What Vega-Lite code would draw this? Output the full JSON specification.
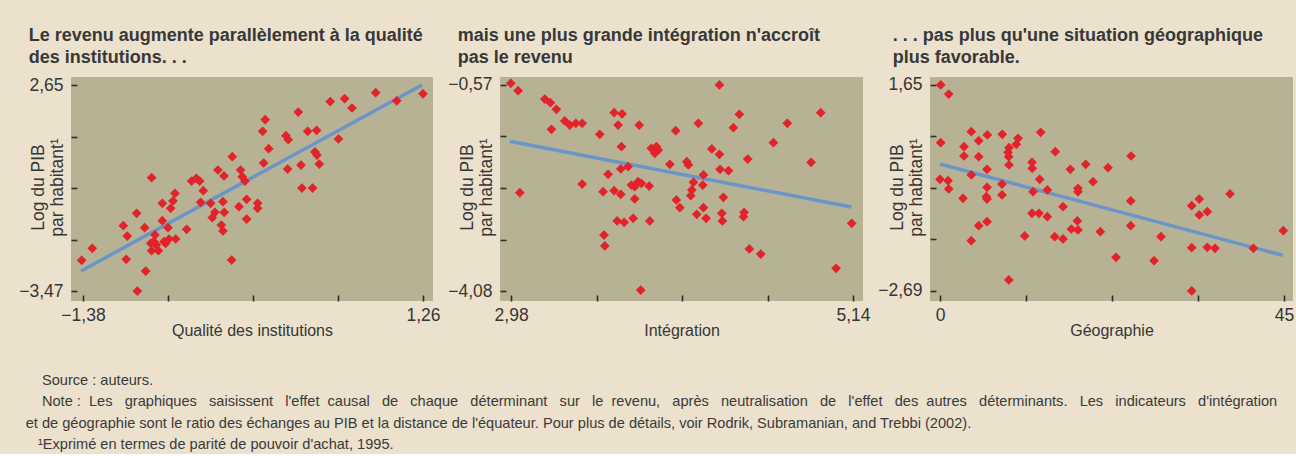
{
  "$schema": "https://vega.github.io/schema/vega-lite/v6.json",
  "background": "#ebe1cc",
  "padding": {"left": 18, "top": 26, "right": 2, "bottom": 2},
  "bounds": "flush",
  "spacing": 67,
  "config": {
    "view": {"fill": "#b7b294", "stroke": null},
    "font": "Liberation Sans",
    "axis": {
      "domain": false,
      "grid": false,
      "tickSize": -6,
      "tickColor": "#2e2e2e",
      "tickWidth": 1.6,
      "labelFont": "Liberation Sans",
      "labelFontSize": 17.5,
      "labelColor": "#363636",
      "labelOverlap": false,
      "labelBound": false,
      "labelFlush": false,
      "titleFont": "Liberation Sans",
      "titleFontWeight": "normal",
      "titleColor": "#363636"
    },
    "axisX": {"labelPadding": 11, "titlePadding": -1, "titleFontSize": 16},
    "axisY": {"labelPadding": 14, "titleFontSize": 17.5, "titleX": -24, "titleY": 110, "titleLineHeight": 19, "titleBaseline": "bottom", "titleAlign": "center", "titleAngle": -90},
    "title": {"anchor": "start", "frame": "bounds", "font": "Liberation Sans", "fontSize": 18, "fontWeight": "bold", "color": "#383838", "lineHeight": 22, "baseline": "alphabetic", "offset": 9}
  },
  "title": {
    "text": [
      "\u200b\u00a0\u00a0\u00a0\u00a0Source : auteurs.",
      "\u200b\u00a0\u00a0\u00a0\u00a0Note : \u00a0Les \u00a0\u00a0graphiques \u00a0\u00a0saisissent \u00a0\u00a0l'effet \u00a0causal \u00a0\u00a0de \u00a0\u00a0chaque \u00a0\u00a0déterminant \u00a0\u00a0sur \u00a0\u00a0le \u00a0revenu, \u00a0\u00a0après \u00a0\u00a0neutralisation \u00a0\u00a0de \u00a0\u00a0l'effet \u00a0\u00a0des \u00a0autres \u00a0\u00a0déterminants. \u00a0\u00a0Les \u00a0\u00a0indicateurs \u00a0\u00a0d'intégration",
      "et de géographie sont le ratio des échanges au PIB et la distance de l'équateur. Pour plus de détails, voir Rodrik, Subramanian, and Trebbi (2002).",
      "\u200b\u00a0\u00a0\u00a0¹Exprimé en termes de parité de pouvoir d'achat, 1995."
    ],
    "orient": "bottom",
    "anchor": "start",
    "frame": "bounds",
    "dx": 7,
    "font": "Liberation Sans",
    "fontSize": 14.6,
    "fontWeight": "normal",
    "color": "#3a3a3a",
    "lineHeight": 21.5,
    "baseline": "top",
    "offset": 34
  },
  "datasets": {
    "inst": [
      {"x":-1.390,"y":-2.558},{"x":-1.308,"y":-2.201},{"x":-1.067,"y":-1.530},{"x":-1.036,"y":-1.836},{"x":-1.044,"y":-2.528},
      {"x":-0.963,"y":-1.162},{"x":-0.893,"y":-2.876},{"x":-0.958,"y":-3.470},{"x":-0.901,"y":-1.589},{"x":-0.847,"y":-0.104},
      {"x":-0.764,"y":-0.865},{"x":-0.764,"y":-1.381},{"x":-0.720,"y":-1.589},{"x":-0.699,"y":-1.013},{"x":-0.681,"y":-0.796},
      {"x":-0.666,"y":-0.567},{"x":-0.821,"y":-1.806},{"x":-0.829,"y":-2.005},{"x":-0.847,"y":-2.273},{"x":-0.795,"y":-2.273},
      {"x":-0.751,"y":-2.005},{"x":-0.712,"y":-1.925},{"x":-0.660,"y":-1.925},{"x":-0.575,"y":-1.637},{"x":-0.536,"y":-0.202},
      {"x":-0.500,"y":-0.122},{"x":-0.474,"y":-0.202},{"x":-0.446,"y":-0.490},{"x":-0.466,"y":-0.835},{"x":-0.389,"y":-0.865},
      {"x":-0.355,"y":-1.132},{"x":-0.376,"y":-1.292},{"x":-0.293,"y":-0.817},{"x":-0.283,"y":-1.132},{"x":-0.306,"y":-1.509},
      {"x":-0.293,"y":-1.687},{"x":-0.332,"y":0.125},{"x":-0.285,"y":-0.053},{"x":-0.221,"y":0.520},{"x":-0.226,"y":-2.549},
      {"x":-0.156,"y":0.125},{"x":-0.143,"y":-0.074},{"x":-0.122,"y":-0.202},{"x":-0.109,"y":-0.746},{"x":-0.169,"y":-0.966},
      {"x":-0.109,"y":-1.331},{"x":-0.811,"y":-2.103},{"x":-0.738,"y":-2.053},{"x":-0.854,"y":-2.053},{"x":-0.024,"y":-0.865},
      {"x":-0.024,"y":-1.013},{"x":0.015,"y":1.274},{"x":0.035,"y":1.619},{"x":0.062,"y":0.758},{"x":0.023,"y":0.333},
      {"x":0.196,"y":1.144},{"x":0.214,"y":1.025},{"x":0.209,"y":0.154},{"x":0.292,"y":1.848},{"x":0.313,"y":0.273},
      {"x":0.320,"y":-0.410},{"x":0.403,"y":-0.410},{"x":0.365,"y":1.274},{"x":0.434,"y":1.304},{"x":0.421,"y":0.660},
      {"x":0.437,"y":0.570},{"x":0.455,"y":0.303},{"x":0.540,"y":2.160},{"x":0.604,"y":1.046},{"x":0.652,"y":2.243},
      {"x":0.709,"y":1.967},{"x":0.893,"y":2.421},{"x":1.056,"y":2.181},{"x":1.260,"y":2.389}
    ],
    "inst_fit": [{"x":-1.3955,"y":-2.876},{"x":1.252,"y":2.65}],
    "integ": [
      {"x":2.978,"y":-0.541},{"x":3.024,"y":-0.667},{"x":3.193,"y":-0.809},{"x":3.228,"y":-0.872},{"x":3.266,"y":-0.984},
      {"x":3.235,"y":-1.325},{"x":3.319,"y":-1.183},{"x":3.351,"y":-1.252},{"x":3.389,"y":-1.223},{"x":3.429,"y":-1.223},
      {"x":3.540,"y":-1.410},{"x":3.631,"y":-1.042},{"x":3.681,"y":-1.064},{"x":3.656,"y":-1.252},{"x":3.789,"y":-1.252},
      {"x":4.020,"y":-1.349},{"x":3.677,"y":-1.621},{"x":3.866,"y":-1.649},{"x":3.898,"y":-1.621},{"x":3.888,"y":-1.734},
      {"x":3.909,"y":-1.678},{"x":3.983,"y":-1.921},{"x":3.673,"y":-2.001},{"x":3.719,"y":-1.962},{"x":3.593,"y":-2.092},
      {"x":3.035,"y":-2.405},{"x":3.429,"y":-2.257},{"x":3.561,"y":-2.388},{"x":3.631,"y":-2.371},{"x":3.673,"y":-2.432},
      {"x":3.740,"y":-2.274},{"x":3.782,"y":-2.218},{"x":3.803,"y":-2.245},{"x":3.761,"y":-2.303},{"x":3.852,"y":-2.291},
      {"x":3.761,"y":-2.512},{"x":3.650,"y":-2.887},{"x":3.694,"y":-2.909},{"x":3.751,"y":-2.841},{"x":3.856,"y":-2.887},
      {"x":3.567,"y":-3.126},{"x":3.572,"y":-3.313},{"x":3.799,"y":-4.063},{"x":4.024,"y":-2.529},{"x":4.046,"y":-2.661},
      {"x":4.296,"y":-0.570},{"x":4.422,"y":-1.069},{"x":4.163,"y":-1.223},{"x":4.384,"y":-1.298},{"x":4.725,"y":-1.223},
      {"x":4.936,"y":-1.042},{"x":4.637,"y":-1.553},{"x":4.248,"y":-1.660},{"x":4.296,"y":-1.751},{"x":4.475,"y":-1.831},
      {"x":4.090,"y":-1.877},{"x":4.100,"y":-1.933},{"x":4.300,"y":-2.006},{"x":4.353,"y":-2.030},{"x":4.875,"y":-1.887},
      {"x":4.195,"y":-2.103},{"x":4.132,"y":-2.228},{"x":4.191,"y":-2.274},{"x":4.122,"y":-2.359},{"x":4.115,"y":-2.456},
      {"x":4.321,"y":-2.483},{"x":4.153,"y":-2.773},{"x":4.195,"y":-2.661},{"x":4.212,"y":-2.841},{"x":4.311,"y":-2.756},
      {"x":4.315,"y":-2.887},{"x":4.452,"y":-2.739},{"x":4.448,"y":-2.814},{"x":5.132,"y":-2.926},{"x":4.485,"y":-3.364},
      {"x":4.557,"y":-3.450},{"x":5.033,"y":-3.693}
    ],
    "integ_fit": [{"x":2.972,"y":-1.529},{"x":5.130,"y":-2.649}],
    "geo": [
      {"x":0.09,"y":1.650},{"x":1.14,"y":1.460},{"x":0.09,"y":0.435},{"x":4.09,"y":0.666},{"x":5.06,"y":0.477},
      {"x":6.19,"y":0.597},{"x":8.15,"y":0.611},{"x":10.20,"y":0.527},{"x":9.98,"y":0.401},{"x":13.17,"y":0.654},
      {"x":3.14,"y":0.350},{"x":3.14,"y":0.154},{"x":5.06,"y":0.140},{"x":9.03,"y":0.329},{"x":8.90,"y":0.232},
      {"x":8.99,"y":0.140},{"x":9.03,"y":-0.035},{"x":12.04,"y":0.022},{"x":12.07,"y":-0.105},{"x":15.08,"y":0.245},
      {"x":17.05,"y":-0.126},{"x":19.06,"y":-0.021},{"x":21.98,"y":-0.092},{"x":0.0,"y":-0.337},{"x":1.05,"y":-0.366},
      {"x":1.14,"y":-0.541},{"x":4.09,"y":-0.246},{"x":6.15,"y":-0.126},{"x":6.15,"y":-0.505},{"x":6.06,"y":-0.703},
      {"x":6.15,"y":-0.752},{"x":8.11,"y":-0.436},{"x":8.11,"y":-0.667},{"x":3.01,"y":-0.737},{"x":12.17,"y":-0.598},
      {"x":13.04,"y":-0.337},{"x":14.04,"y":-0.562},{"x":18.05,"y":-0.526},{"x":18.05,"y":-0.598},{"x":20.02,"y":-0.387},
      {"x":16.09,"y":-0.914},{"x":12.04,"y":-1.053},{"x":12.95,"y":-1.053},{"x":14.04,"y":-1.124},{"x":17.96,"y":-1.215},
      {"x":17.18,"y":-1.384},{"x":18.05,"y":-1.405},{"x":5.06,"y":-1.314},{"x":6.15,"y":-1.230},{"x":4.09,"y":-1.630},
      {"x":11.08,"y":-1.531},{"x":15.01,"y":-1.546},{"x":16.09,"y":-1.594},{"x":20.97,"y":-1.440},{"x":8.99,"y":-2.458},
      {"x":24.99,"y":0.154},{"x":24.95,"y":-0.794},{"x":24.95,"y":-1.314},{"x":28.91,"y":-1.546},{"x":23.02,"y":-1.980},
      {"x":28.00,"y":-2.051},{"x":32.93,"y":-0.893},{"x":33.92,"y":-0.752},{"x":33.92,"y":-1.089},{"x":34.97,"y":-1.019},
      {"x":37.94,"y":-0.646},{"x":32.93,"y":-1.777},{"x":34.97,"y":-1.769},{"x":35.98,"y":-1.790},{"x":40.99,"y":-1.790},
      {"x":44.91,"y":-1.419},{"x":32.93,"y":-2.690}
    ],
    "geo_fit": [{"x":0.0,"y":-0.014},{"x":44.83,"y":-1.938}]
  },
  "hconcat": [
    {
      "width": 362,
      "height": 224,
      "title": {"text": ["Le revenu augmente parallèlement à la qualité", "des institutions. . ."], "dx": 10},
      "layer": [
        {
          "data": {"name": "inst_fit"},
          "mark": {"type": "line", "color": "#6b95c9", "strokeWidth": 3.5},
          "encoding": {
            "x": {"field": "x", "type": "quantitative"},
            "y": {"field": "y", "type": "quantitative"}
          }
        },
        {
          "data": {"name": "inst"},
          "mark": {"type": "point", "shape": "diamond", "filled": true, "size": 95, "color": "#e2232b", "opacity": 1},
          "encoding": {
            "x": {"field": "x", "type": "quantitative",
              "scale": {"domain": [-1.473, 1.338], "nice": false, "zero": false},
              "axis": {"title": "Qualité des institutions", "values": [-1.38, -0.72, -0.06, 0.6, 1.26],
                "labelExpr": "datum.value == -1.38 ? '−1,38' : datum.value == 1.26 ? '1,26' : ''"}},
            "y": {"field": "y", "type": "quantitative",
              "scale": {"domain": [-3.767, 2.888], "nice": false, "zero": false},
              "axis": {"title": ["Log du PIB", "par habitant¹"], "titleLineHeight": 19, "values": [-3.47, -1.94, -0.41, 1.12, 2.65],
                "labelExpr": "datum.value == 2.65 ? '2,65' : datum.value == -3.47 ? '−3,47' : ''"}}
          }
        }
      ]
    },
    {
      "width": 363,
      "height": 224,
      "title": {"text": ["mais une plus grande intégration n'accroît", "pas le revenu"], "dx": 10},
      "layer": [
        {
          "data": {"name": "integ_fit"},
          "mark": {"type": "line", "color": "#6b95c9", "strokeWidth": 3.5},
          "encoding": {
            "x": {"field": "x", "type": "quantitative"},
            "y": {"field": "y", "type": "quantitative"}
          }
        },
        {
          "data": {"name": "integ"},
          "mark": {"type": "point", "shape": "diamond", "filled": true, "size": 95, "color": "#e2232b", "opacity": 1},
          "encoding": {
            "x": {"field": "x", "type": "quantitative",
              "scale": {"domain": [2.910, 5.203], "nice": false, "zero": false},
              "axis": {"title": "Intégration", "values": [2.98, 3.52, 4.06, 4.6, 5.14],
                "labelExpr": "datum.value == 2.98 ? '2,98' : datum.value == 5.14 ? '5,14' : ''"}},
            "y": {"field": "y", "type": "quantitative",
              "scale": {"domain": [-4.25, -0.434], "nice": false, "zero": false},
              "axis": {"title": ["Log du PIB", "par habitant¹"], "titleLineHeight": 19, "values": [-4.08, -3.2025, -2.325, -1.4475, -0.57],
                "labelExpr": "datum.value == -0.57 ? '−0,57' : datum.value == -4.08 ? '−4,08' : ''"}}
          }
        }
      ]
    },
    {
      "width": 363,
      "height": 224,
      "title": {"text": [". . . pas plus qu'une situation géographique", "plus favorable."], "dx": 15},
      "layer": [
        {
          "data": {"name": "geo_fit"},
          "mark": {"type": "line", "color": "#6b95c9", "strokeWidth": 3.5},
          "encoding": {
            "x": {"field": "x", "type": "quantitative"},
            "y": {"field": "y", "type": "quantitative"}
          }
        },
        {
          "data": {"name": "geo"},
          "mark": {"type": "point", "shape": "diamond", "filled": true, "size": 95, "color": "#e2232b", "opacity": 1},
          "encoding": {
            "x": {"field": "x", "type": "quantitative",
              "scale": {"domain": [-1.308, 46.18], "nice": false, "zero": false},
              "axis": {"title": "Géographie", "values": [0, 11.25, 22.5, 33.75, 45],
                "labelExpr": "datum.value == 0 ? '0' : datum.value == 45 ? '45' : ''"}},
            "y": {"field": "y", "type": "quantitative",
              "scale": {"domain": [-2.901, 1.8185], "nice": false, "zero": false},
              "axis": {"title": ["Log du PIB", "par habitant¹"], "titleLineHeight": 19, "values": [-2.69, -1.605, -0.52, 0.565, 1.65],
                "labelExpr": "datum.value == 1.65 ? '1,65' : datum.value == -2.69 ? '−2,69' : ''"}}
          }
        }
      ]
    }
  ]
}
